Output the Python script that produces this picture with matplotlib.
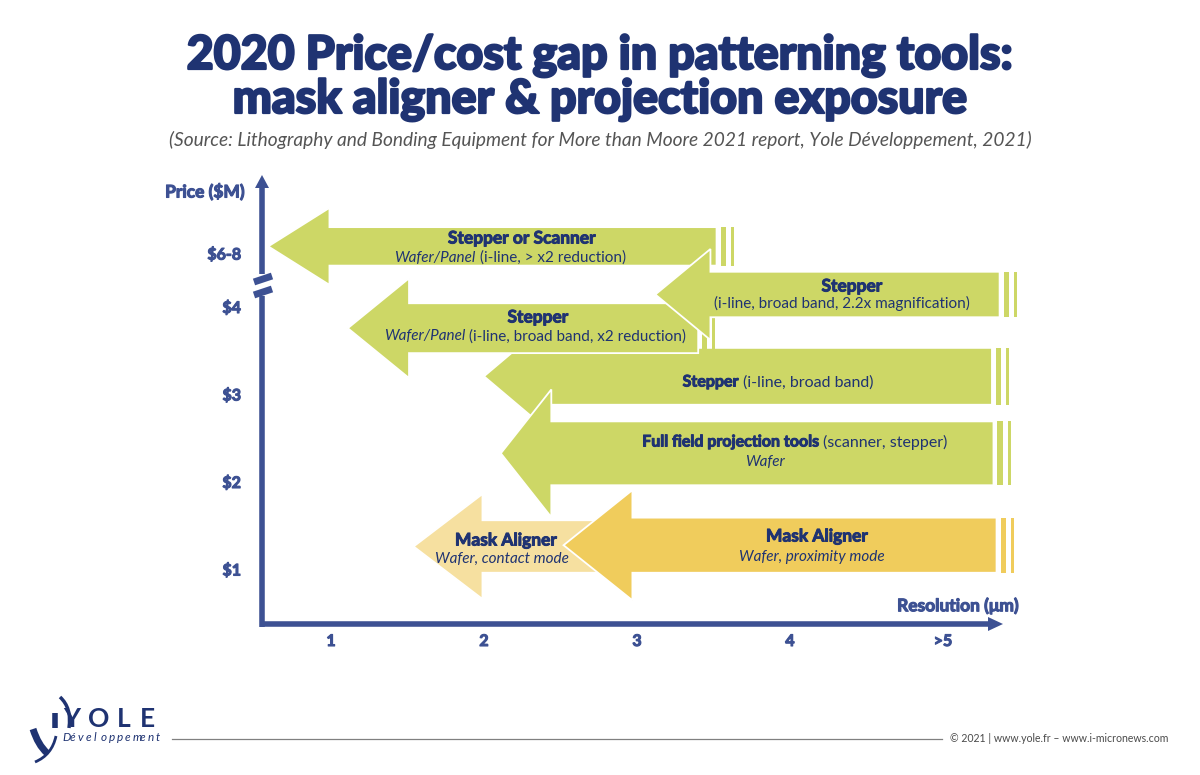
import numpy as np
import matplotlib
matplotlib.use("Agg")
import matplotlib.pyplot as plt
import matplotlib.patheffects as pe
from matplotlib.patches import Polygon, Rectangle
from matplotlib.path import Path
from matplotlib.patches import PathPatch
from matplotlib.transforms import ScaledTranslation

plt.rcParams['font.family'] = ['Lato', 'DejaVu Sans']

# tools: best resolution (arrow tip, um), worst resolution (tail), price band (axis units, $M)
tools = ["Stepper or Scanner", "Stepper 2.2x", "Stepper x2", "Stepper i-line",
         "Full field", "Mask Aligner contact", "Mask Aligner proximity"]
res_best = [0.59, 3.12, 1.11, 2.00, 2.11, 1.54, 2.52]
res_worst = [3.52, 5.37, 3.40, 5.32, 5.33, 2.95, 5.35]
price_low = [4.49, 3.90, 3.49, 2.90, 1.98, 0.98, 0.98]
price_high = [4.93, 4.42, 4.06, 3.55, 2.71, 1.58, 1.61]

res_ticks = [1, 2, 3, 4, 5]
res_labels = ["1", "2", "3", "4", ">5"]
price_ticks = [1, 2, 3, 4, 4.61]
price_labels = ["$1", "$2", "$3", "$4", "$6-8"]

# styles
GREEN = "#CDD766"
LIGHTYEL = "#F6E0A0"
YELLOW = "#F0CC5C"
NAVY = "#1F3372"
AXCOL = "#3D5193"
fills = [GREEN, GREEN, GREEN, GREEN, GREEN, LIGHTYEL, YELLOW]
head_len = [0.40, 0.36, 0.40, 0.44, 0.33, 0.45, 0.45]
draw_order = [3, 4, 2, 0, 1, 5, 6]

# pixel layout helpers (axes fills the whole figure)
X0, XS, Y0, YS = 331, 153.0, 571, 87.5
def px(x):
    return 1 + (x - X0) / XS
def py(y):
    return 1 + (Y0 - y) / YS

fig = plt.figure(figsize=(12, 7.75), dpi=100)
ax = fig.add_axes([0, 0, 1, 1])
ax.set_xlim(px(0), px(1200))
ax.set_ylim(py(775), py(0))
ax.axis('off')

#arrows
for i in draw_order:
    x0, x1 = res_best[i], res_worst[i]
    lo, hi = price_low[i], price_high[i]
    h = hi - lo
    yc = (lo + hi) / 2
    xb = x0 + head_len[i]
    pts = [(x0, yc), (xb, hi + h / 2), (xb, hi), (x1, hi), (x1, lo), (xb, lo), (xb, lo - h / 2)]
    ax.add_patch(Polygon(pts, closed=True, fc=fills[i], ec='white', lw=1.3, zorder=2))
    # striped tail
    s1 = x1 + 0.026
    ax.add_patch(Rectangle((s1, lo), 0.033, h, fc=fills[i], ec='none', zorder=2))
    s2 = s1 + 0.033 + 0.033
    ax.add_patch(Rectangle((s2, lo), 0.02, h, fc=fills[i], ec='none', zorder=2))

# axes lines
lw_ax = 4
ax.plot([px(262), px(262)], [py(627), py(296)], color=AXCOL, lw=lw_ax, solid_capstyle='butt', zorder=3)
ax.plot([px(262), px(262)], [py(274), py(186)], color=AXCOL, lw=lw_ax, solid_capstyle='butt', zorder=3)
ax.add_patch(Polygon([(px(255), py(188)), (px(269), py(188)), (px(262), py(175))], closed=True,
                     fc=AXCOL, ec='none', zorder=3))
ax.plot([px(260), px(989)], [py(624), py(624)], color=AXCOL, lw=lw_ax, solid_capstyle='butt', zorder=3)
ax.add_patch(Polygon([(px(988), py(617)), (px(988), py(631)), (px(1003), py(624))], closed=True,
                     fc=AXCOL, ec='none', zorder=3))
# break marks
for yy in (279, 292):
    ax.plot([px(254), px(272)], [py(yy + 3), py(yy - 3)], color=AXCOL, lw=5, solid_capstyle='butt', zorder=4)

heavy = [pe.withStroke(linewidth=0.8, foreground=AXCOL)]
ax.text(px(205), py(192), "Price ($M)", fontsize=12.5, fontweight='bold', color=AXCOL,
        ha='center', va='center', path_effects=heavy)
ax.text(px(958), py(606), "Resolution (\u03bcm)", fontsize=12.5, fontweight='bold', color=AXCOL,
        ha='center', va='center', path_effects=heavy)
for v, lab in zip(price_ticks, price_labels):
    ax.text(px(241), v, lab, fontsize=11.5, fontweight='bold', color=AXCOL, ha='right', va='center',
            path_effects=heavy)
for v, lab in zip(res_ticks, res_labels):
    ax.text(v, py(642), lab, fontsize=11.5, fontweight='bold', color=AXCOL, ha='center', va='center',
            path_effects=heavy)

# arrow labels with mixed styles
groups = []
def rich(x, y, parts, size):
    items = []
    for s, w, st in parts:
        t = ax.text(px(x), py(y), s, fontsize=size, fontweight=w, fontstyle=st, color=NAVY,
                    ha='left', va='center_baseline', zorder=5)
        if w == 'bold':
            t.set_path_effects([pe.withStroke(linewidth=0.7, foreground=NAVY)])
        items.append(t)
    groups.append((items, size))

B, R, I = ('bold', 'normal'), ('normal', 'normal'), ('normal', 'italic')
BS, NS = 12.5, 11
rich(522, 237, [("Stepper or Scanner",) + B], BS)
rich(510, 256, [("Wafer/Panel",) + I, ("(i-line, > x2 reduction)",) + R], NS)
rich(852, 285, [("Stepper",) + B], BS)
rich(842, 302, [("(i-line, broad band, 2.2x magnification)",) + R], NS)
rich(538, 316, [("Stepper",) + B], BS)
rich(535, 335, [("Wafer/Panel",) + I, ("(i-line, broad band, x2 reduction)",) + R], NS)
rich(778, 381, [("Stepper",) + B, ("(i-line, broad band)",) + R], NS + 0.5)
rich(795, 441, [("Full field projection tools",) + B, ("(scanner, stepper)",) + R], NS + 0.5)
rich(765, 461, [("Wafer",) + I], NS)
rich(506, 539, [("Mask Aligner",) + B], BS)
rich(502, 557, [("Wafer, contact mode",) + I], NS)
rich(817, 535, [("Mask Aligner",) + B], BS)
rich(812, 555, [("Wafer, proximity mode",) + I], NS)

# title and source
tstroke = [pe.withStroke(linewidth=1.6, foreground=NAVY)]
ax.text(px(600), py(69), "2020 Price/cost gap in patterning tools:", fontsize=33.5, fontweight='black',
        color=NAVY, ha='center', va='baseline', path_effects=tstroke)
ax.text(px(600), py(113), "mask aligner & projection exposure", fontsize=33.5, fontweight='black',
        color=NAVY, ha='center', va='baseline', path_effects=tstroke)
ax.text(px(600), py(140), "(Source: Lithography and Bonding Equipment for More than Moore 2021 report, "
        "Yole D\u00e9veloppement, 2021)", fontsize=13.8, fontstyle='italic',
        color='#555555', ha='center', va='center')

# footer
for ch, xx in zip("YOLE", [63, 88, 117, 140]):
    ax.text(px(xx), py(727), ch, fontsize=19, fontweight='bold', color=NAVY, ha='left', va='baseline')
for k, ch in enumerate("D\u00e9veloppement"):
    ax.text(px(62 + k * 7.8), py(741), ch, fontsize=8.5, fontstyle='italic', color=NAVY,
            ha='left', va='baseline')
ax.plot([px(172), px(942)], [py(739), py(739)], color='#808080', lw=0.9)
ax.text(px(950), py(738), "\u00a9 2021 | www.yole.fr \u2013 www.i-micronews.com", fontsize=7.6,
        color='#4A4A4A', ha='left', va='center')

# logo swoosh
def curve(p0, p1, p2, lw):
    path = Path([(px(p0[0]), py(p0[1])), (px(p1[0]), py(p1[1])), (px(p2[0]), py(p2[1]))],
                [Path.MOVETO, Path.CURVE3, Path.CURVE3])
    ax.add_patch(PathPatch(path, fc='none', ec=NAVY, lw=lw, capstyle='butt'))
curve((33, 729), (38, 745), (47, 753), 5)
curve((56, 736), (52, 755), (35, 762), 2)
curve((60, 697), (72, 708), (69, 728), 2.5)
ax.plot([px(55), px(55)], [py(713), py(728)], color=NAVY, lw=4, solid_capstyle='butt')

# center mixed-style lines
fig.canvas.draw()
renderer = fig.canvas.get_renderer()
for items, size in groups:
    gap = 0.27 * size * fig.dpi / 72
    widths = [t.get_window_extent(renderer).width for t in items]
    total = sum(widths) + gap * (len(items) - 1)
    off = -total / 2
    for t, w in zip(items, widths):
        t.set_transform(ax.transData + ScaledTranslation(off / fig.dpi, 0, fig.dpi_scale_trans))
        off += w + gap

fig.savefig("out.png", dpi=100)
